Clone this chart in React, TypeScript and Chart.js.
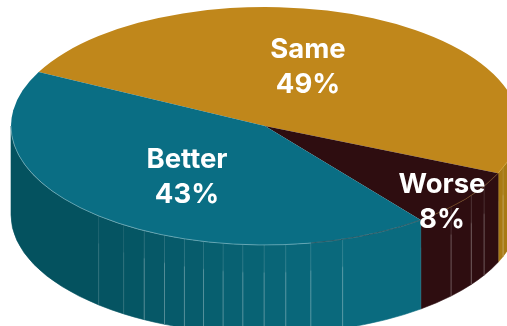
import { useEffect, useRef } from "react";
import { Chart, registerables } from "chart.js";

Chart.register(...registerables);

const categories = ["Same", "Worse", "Better"];
const shares = [49, 8, 43];
const topColors = ["#C0871B", "#2E0D10", "#0A6E84"];

// Side wall of the cylinder: one shade ramp per slice, from its right end to its left end.
const wallRamps = [
  ["#A87A14", "#A87A14"],
  ["#2E0D10", "#2E0D10"],
  ["#0A6B7F", "#04525F"],
];
const rimColors = ["rgba(230,190,90,0.5)", "rgba(190,135,40,0.45)", "rgba(205,235,240,0.5)"];
// Facet seams on the wall, in degrees clockwise from the +x axis.
const wallSeams = [20.4, 30.4, 35.7, 42.9, 72.2, 79.6, 85.3, 90.2, 95, 99.5, 104, 108.5, 113.3, 118.4, 123.8, 130.9];

const X_STRETCH = 254 / 119;
const DEPTH = 89;
const deg = Math.PI / 180;

// Label anchors relative to the pie centre, in pixels.
const labelOffsets = [
  { dx: 43, dy: -76 },
  { dx: 177, dy: 59 },
  { dx: -78, dy: 34 },
];
const LINE_GAP = 35;

const hex = (c: string) => [1, 3, 5].map((i) => parseInt(c.slice(i, i + 2), 16));
const mix = (a: string, b: string, t: number) => {
  const [p, q] = [hex(a), hex(b)];
  return `rgb(${p.map((v, i) => Math.round(v + (q[i] - v) * t)).join(",")})`;
};

const cylinderPlugin = {
  id: "cylinder",
  beforeDatasetsDraw(chart: any) {
    const ctx: CanvasRenderingContext2D = chart.ctx;
    const arcs = chart.getDatasetMeta(0).data;
    const { x: cx, y: cy, outerRadius: ry } = arcs[0];
    const rx = ry * X_STRETCH;

    ctx.save();
    arcs.forEach((arc: any, i: number) => {
      const from = Math.max(arc.startAngle, 0);
      const to = Math.min(arc.endAngle, Math.PI);
      if (to <= from) return;
      const inner = wallSeams.map((s) => s * deg).filter((s) => s > from && s < to);
      const edges = [from, ...inner, to];
      edges.slice(0, -1).forEach((a1, k) => {
        const a2 = edges[k + 1];
        const color = mix(wallRamps[i][0], wallRamps[i][1], edges.length > 2 ? k / (edges.length - 2) : 0);
        ctx.beginPath();
        ctx.ellipse(cx, cy, rx, ry, 0, a1, a2);
        ctx.lineTo(cx + rx * Math.cos(a2), cy + ry * Math.sin(a2) + DEPTH);
        ctx.ellipse(cx, cy + DEPTH, rx, ry, 0, a2, a1, true);
        ctx.closePath();
        ctx.fillStyle = color;
        ctx.strokeStyle = color;
        ctx.lineWidth = 0.6;
        ctx.fill();
        ctx.stroke();
      });
      // Seams between facets and at the slice boundary
      const seams = [...inner, ...(arc.endAngle < Math.PI ? [arc.endAngle] : [])];
      seams.forEach((a) => {
        const x = cx + rx * Math.cos(a);
        const y = cy + ry * Math.sin(a);
        const strength = a > 120 * deg ? 0.18 : 0.36;
        const g = ctx.createLinearGradient(0, y, 0, y + DEPTH);
        g.addColorStop(0, `rgba(255,255,255,${strength * 0.35})`);
        g.addColorStop(0.3, `rgba(255,255,255,${strength * 0.45})`);
        g.addColorStop(0.32, `rgba(255,255,255,${strength})`);
        g.addColorStop(1, `rgba(255,255,255,${strength})`);
        ctx.beginPath();
        ctx.moveTo(x, y);
        ctx.lineTo(x, y + DEPTH);
        ctx.strokeStyle = g;
        ctx.lineWidth = 0.8;
        ctx.stroke();
      });
    });
    ctx.restore();

    // Squash the round pie into the top face of the cylinder
    ctx.save();
    ctx.translate(cx, cy);
    ctx.scale(X_STRETCH, 1);
    ctx.translate(-cx, -cy);
  },
  afterDatasetsDraw(chart: any) {
    const ctx: CanvasRenderingContext2D = chart.ctx;
    ctx.restore();
    const arcs = chart.getDatasetMeta(0).data;
    const { x: cx, y: cy, outerRadius: ry } = arcs[0];
    const rx = ry * X_STRETCH;

    // Thin highlight along the front rim
    ctx.save();
    ctx.lineWidth = 0.8;
    arcs.forEach((arc: any, i: number) => {
      const from = Math.max(arc.startAngle, 0);
      const to = Math.min(arc.endAngle, Math.PI);
      if (to <= from) return;
      ctx.beginPath();
      ctx.ellipse(cx, cy, rx, ry, 0, from, to);
      ctx.strokeStyle = rimColors[i];
      ctx.stroke();
    });
    ctx.beginPath();
    ctx.ellipse(cx, cy, rx, ry, 0, arcs[1].endAngle, 79.6 * deg);
    ctx.strokeStyle = "rgba(15,50,60,0.8)";
    ctx.stroke();
    ctx.restore();

    // Category and share labels
    ctx.save();
    ctx.fillStyle = "#FFFFFF";
    ctx.font = '700 27.5px Inter, "Open Sans", sans-serif';
    ctx.textAlign = "center";
    ctx.textBaseline = "middle";
    categories.forEach((name, i) => {
      const { dx, dy } = labelOffsets[i];
      ctx.fillText(name, cx + dx, cy + dy);
      ctx.fillText(`${shares[i]}%`, cx + dx, cy + dy + LINE_GAP);
    });
    ctx.restore();
  },
};

export default function App() {
  const canvasRef = useRef<HTMLCanvasElement>(null);

  useEffect(() => {
    const chart = new Chart(canvasRef.current!, {
      type: "pie",
      data: {
        labels: categories,
        datasets: [
          {
            data: shares,
            backgroundColor: topColors,
            borderWidth: 0,
            clip: false,
          } as any,
        ],
      },
      options: {
        animation: false,
        responsive: false,
        rotation: -63,
        layout: { padding: { left: 23, right: 0, top: 7, bottom: 81 } },
        plugins: { legend: { display: false }, tooltip: { enabled: false } },
      },
      plugins: [cylinderPlugin],
    });
    return () => chart.destroy();
  }, []);

  return (
    <canvas
      ref={canvasRef}
      width={507}
      height={326}
      style={{ position: "absolute", left: 0, top: 0, display: "block" }}
    />
  );
}
